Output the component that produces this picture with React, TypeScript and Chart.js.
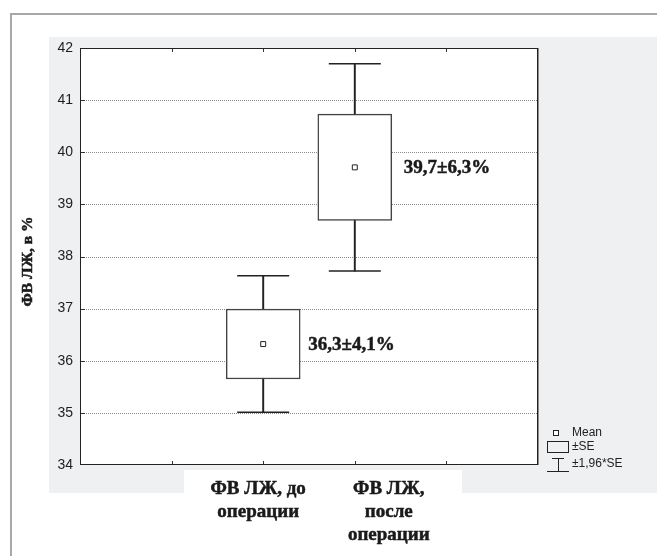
import React, { useEffect, useRef } from 'react';
import { Chart, registerables } from 'chart.js';

Chart.register(...registerables);

// ---- data ----
const categoryLabels: string[][] = [
  ['ФВ ЛЖ, до', 'операции'],
  ['ФВ ЛЖ,', 'после', 'операции'],
];
const categoryPositions = [2, 3];
const means = [36.32, 39.71];
const standardErrors = [0.67, 1.02];
const ci196 = [1.31, 1.99];
const valueLabels = ['36,3±4,1%', '39,7±6,3%'];
const yTickValues = [34, 35, 36, 37, 38, 39, 40, 41, 42];
const xTickValues = [1, 2, 3, 4];
const yAxisTitle = 'ФВ ЛЖ, в %';
const legendLabels = ['Mean', '±SE', '±1,96*SE'];

const SERIF = '"Liberation Serif", "DejaVu Serif", serif';
const SANS = '"Liberation Sans", Arial, sans-serif';

function heavyText(ctx: CanvasRenderingContext2D, t: string, x: number, y: number) {
  ctx.fillText(t, x, y);
  ctx.strokeText(t, x, y);
}

const decor = {
  id: 'decor',
  beforeDraw(chart: any) {
    const { ctx, chartArea: a, scales } = chart;
    const y = scales.y;
    const x = scales.x;
    const W = chart.width;
    const H = chart.height;
    ctx.save();
    ctx.fillStyle = '#ffffff';
    ctx.fillRect(0, 0, W, H);
    // grey panel
    ctx.fillStyle = '#eff0f2';
    ctx.fillRect(49, 37, W - 49, 493 - 37);
    // white label box
    ctx.fillStyle = '#ffffff';
    ctx.fillRect(184, 470, 462 - 184, 30);
    // outer frame
    ctx.strokeStyle = '#a8a8a8';
    ctx.lineWidth = 2;
    ctx.beginPath();
    ctx.moveTo(11, H);
    ctx.lineTo(11, 14);
    ctx.lineTo(W, 14);
    ctx.stroke();
    // plot area
    ctx.fillStyle = '#ffffff';
    ctx.fillRect(a.left, a.top, a.right - a.left, a.bottom - a.top);
    // dotted grid
    ctx.strokeStyle = '#8a8a8a';
    ctx.lineWidth = 1;
    ctx.setLineDash([1, 1]);
    for (const v of yTickValues) {
      if (v <= y.min || v >= y.max) continue;
      const py = Math.round(y.getPixelForValue(v)) + 0.5;
      ctx.beginPath();
      ctx.moveTo(a.left, py);
      ctx.lineTo(a.right, py);
      ctx.stroke();
    }
    ctx.setLineDash([]);
    // inner ticks
    ctx.strokeStyle = '#333333';
    for (const v of yTickValues) {
      if (v <= y.min || v >= y.max) continue;
      const py = Math.round(y.getPixelForValue(v)) + 0.5;
      ctx.beginPath();
      ctx.moveTo(a.left, py);
      ctx.lineTo(a.left + 5, py);
      ctx.stroke();
    }
    for (const v of xTickValues) {
      const px = Math.round(x.getPixelForValue(v)) + 0.5;
      ctx.beginPath();
      ctx.moveTo(px, a.bottom);
      ctx.lineTo(px, a.bottom - 4);
      ctx.moveTo(px, a.top);
      ctx.lineTo(px, a.top + 4);
      ctx.stroke();
    }
    ctx.restore();
  },
  afterDraw(chart: any) {
    const { ctx, chartArea: a, scales } = chart;
    const y = scales.y;
    const x = scales.x;
    ctx.save();
    // plot border
    ctx.strokeStyle = '#222222';
    ctx.lineWidth = 1;
    ctx.strokeRect(a.left + 0.5, a.top + 0.5, a.right - a.left - 1, a.bottom - a.top - 1);
    ctx.strokeStyle = '#8c8c8c';
    ctx.beginPath();
    ctx.moveTo(a.right + 0.5, a.top);
    ctx.lineTo(a.right + 0.5, a.bottom);
    ctx.stroke();

    // value labels
    ctx.fillStyle = '#1a1a1a';
    ctx.strokeStyle = '#1a1a1a';
    ctx.lineWidth = 0.5;
    ctx.font = `bold 19px ${SERIF}`;
    ctx.textAlign = 'left';
    ctx.textBaseline = 'middle';
    const valOffsets = [45, 49];
    valueLabels.forEach((t, i) => {
      heavyText(ctx, t, x.getPixelForValue(categoryPositions[i]) + valOffsets[i], y.getPixelForValue(means[i]) + 1);
    });

    // category labels
    ctx.font = `bold 19px ${SERIF}`;
    ctx.textAlign = 'center';
    ctx.textBaseline = 'alphabetic';
    const catOffsets = [-5, 34];
    categoryLabels.forEach((lines, i) => {
      const cx = x.getPixelForValue(categoryPositions[i]) + catOffsets[i];
      lines.forEach((ln, j) => {
        heavyText(ctx, ln, cx, a.bottom + 29 + j * 23);
      });
    });

    // y title
    ctx.save();
    ctx.translate(28, (a.top + a.bottom) / 2 + 5);
    ctx.rotate(-Math.PI / 2);
    ctx.font = `bold 15.5px ${SERIF}`;
    ctx.textAlign = 'center';
    ctx.textBaseline = 'middle';
    heavyText(ctx, yAxisTitle, 0, 0);
    ctx.restore();

    // legend
    const lx = a.right + 9;
    ctx.strokeStyle = '#222222';
    ctx.fillStyle = '#ffffff';
    ctx.lineWidth = 1;
    ctx.fillRect(lx + 6.5, 430.5, 5, 5);
    ctx.strokeRect(lx + 6.5, 430.5, 5, 5);
    ctx.strokeRect(lx + 0.5, 441.5, 21, 11);
    ctx.beginPath();
    ctx.moveTo(lx + 5, 458.5);
    ctx.lineTo(lx + 17, 458.5);
    ctx.moveTo(lx + 11.5, 458.5);
    ctx.lineTo(lx + 11.5, 471.5);
    ctx.moveTo(lx, 471.5);
    ctx.lineTo(lx + 22, 471.5);
    ctx.stroke();
    ctx.fillStyle = '#222222';
    ctx.font = `12px ${SANS}`;
    ctx.textAlign = 'left';
    ctx.textBaseline = 'middle';
    ctx.fillText(legendLabels[0], lx + 25, 433);
    ctx.fillText(legendLabels[1], lx + 25, 447);
    ctx.fillText(legendLabels[2], lx + 25, 464);
    ctx.restore();
  },
};

export default function App() {
  const ref = useRef<HTMLCanvasElement | null>(null);
  useEffect(() => {
    document.body.style.margin = '0';
    document.body.style.overflow = 'hidden';
    const canvas = ref.current;
    if (!canvas) return;
    const boxData = categoryPositions.map((p, i) => ({ x: p, y: [means[i] - standardErrors[i], means[i] + standardErrors[i]] }));
    const whiskerData = categoryPositions.map((p, i) => ({ x: p, y: [means[i] - ci196[i], means[i] + ci196[i]] }));
    const capData: { x: number; y: number }[] = [];
    categoryPositions.forEach((p, i) => {
      capData.push({ x: p, y: means[i] - ci196[i] });
      capData.push({ x: p, y: means[i] + ci196[i] });
    });
    const meanData = categoryPositions.map((p, i) => ({ x: p, y: means[i] }));

    const chart = new Chart(canvas, {
      type: 'bar',
      data: {
        datasets: [
          {
            type: 'scatter',
            label: legendLabels[0],
            data: meanData,
            pointStyle: 'rect',
            pointRadius: 3.5,
            backgroundColor: '#ffffff',
            borderColor: '#222222',
            borderWidth: 1,
          } as any,
          {
            type: 'bar',
            label: legendLabels[1],
            data: boxData,
            barThickness: 74,
            grouped: false,
            backgroundColor: '#ffffff',
            borderColor: '#444444',
            borderWidth: 1.5,
            borderSkipped: false,
          } as any,
          {
            type: 'bar',
            label: 'whisker',
            data: whiskerData,
            barThickness: 1.3,
            grouped: false,
            backgroundColor: '#222222',
            borderWidth: 0,
          } as any,
          {
            type: 'scatter',
            label: legendLabels[2],
            data: capData,
            pointStyle: 'line',
            pointRadius: 26,
            borderColor: '#222222',
            borderWidth: 1.5,
          } as any,
        ],
      },
      options: {
        responsive: false,
        animation: false,
        layout: { padding: { left: 0, top: 48, right: 119, bottom: 0 } },
        plugins: { legend: { display: false }, tooltip: { enabled: false } },
        scales: {
          x: {
            type: 'linear',
            min: 0,
            max: 5,
            offset: false,
            grid: { display: false },
            border: { display: false },
            ticks: { display: false },
            afterFit: (s: any) => { s.height = 91; },
          },
          y: {
            type: 'linear',
            min: 34,
            max: 42,
            grid: { display: false, drawTicks: false },
            border: { display: false },
            ticks: {
              stepSize: 1,
              padding: 7,
              color: '#1e1e1e',
              font: { family: SANS, size: 14 },
              callback: (v: any) => (yTickValues.includes(v) ? String(v) : ''),
            },
            afterFit: (s: any) => { s.width = 80; },
          },
        },
      } as any,
      plugins: [decor],
    });
    return () => chart.destroy();
  }, []);
  return <canvas ref={ref} width={657} height={556} style={{ display: 'block' }} />;
}
